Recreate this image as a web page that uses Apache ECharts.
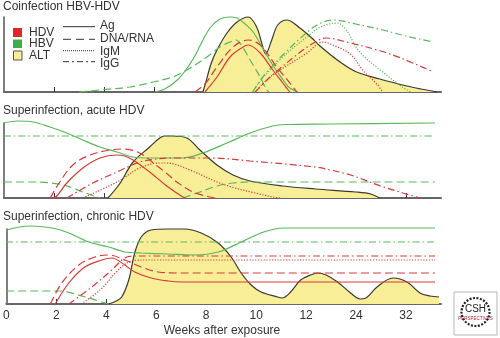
<!DOCTYPE html>
<html><head><meta charset="utf-8">
<script src="https://cdn.jsdelivr.net/npm/echarts@6/dist/echarts.min.js"></script>
<style>html,body{margin:0;padding:0;background:#fff}#c{width:500px;height:338px}</style>
</head><body><div id="c"></div>
<script>
// x positions are in tick-index units of the non-linear week axis
const xTickLabels = ['0','2','4','6','8','10','12','24','32'];
const panelTitles = ['Coinfection HBV-HDV','Superinfection, acute HDV','Superinfection, chronic HDV'];
const xAxisName = 'Weeks after exposure';

// Panel 1: coinfection
const coALT = [[3.96,0],[4.02,10],[4.12,28],[4.24,42],[4.44,59],[4.64,70],[4.86,75],[5.03,65],[5.13,49],[5.21,38],[5.33,52],[5.45,67],[5.63,72],[5.89,64],[6.15,53],[6.29,46],[6.69,30],[7.02,20],[7.48,13],[8.02,6],[8.3,3],[8.62,0]];
const coHBVAg = [[3.0,0],[3.2,3],[3.45,12],[3.62,22],[3.8,36],[3.9,46],[4.1,64],[4.3,73],[4.5,75],[4.64,74],[4.8,68],[4.96,60],[5.16,43],[5.3,31],[5.43,21],[5.6,9],[5.69,4],[5.85,0]];
const coHBVDNA = [[1.5,0],[1.9,2],[2.5,5],[2.97,10],[3.36,15],[3.64,22],[4.04,35],[4.3,45],[4.5,50],[4.62,52],[4.75,45],[4.9,32],[5.1,15],[5.23,2],[5.28,0]];
const coHBVIgM = [[4.95,0],[5.15,14],[5.55,35],[6.03,55],[6.3,65],[6.63,69],[6.8,63],[7.08,40],[7.54,20],[7.82,9],[8.02,2],[8.1,0]];
const coHBVIgG = [[4.95,0],[5.15,15],[5.55,37],[6.09,62],[6.35,70],[6.55,72],[7.0,68],[7.54,62],[8.0,56],[8.55,50]];
const coHDVAg = [[4.0,0],[4.24,15],[4.5,35],[4.76,45],[4.86,47],[5.1,39],[5.35,22],[5.55,9],[5.69,0]];
const coHDVRNA = [[3.8,0],[4.0,8],[4.24,25],[4.56,45],[4.86,52],[5.1,47],[5.43,25],[5.69,9],[5.83,0]];
const coHDVIgM = [[5.0,0],[5.3,15],[6.03,39],[6.35,50],[6.45,49],[6.89,38],[7.14,22],[7.42,8],[7.54,0]];
const coHDVIgG = [[5.0,0],[5.3,15],[5.9,40],[6.2,50],[6.4,54],[6.9,49],[7.5,41],[7.9,34],[8.55,20]];

// Panel 2: superinfection, acute HDV
const acALT = [[2.07,0],[2.3,14],[2.57,36],[2.9,51],[3.1,60],[3.2,62],[3.35,62],[3.64,60],[3.9,48],[4.24,33],[4.56,23],[4.9,17],[5.55,12],[6.2,9],[7.0,6],[7.3,4],[7.48,0]];
const acHBVAg = [[0,75],[0.26,77],[0.58,76],[0.915,71],[1.25,65],[1.57,58],[1.91,51],[2.25,46],[2.57,41],[2.9,40],[3.24,40],[3.56,40],[3.96,45],[4.44,55],[4.9,65],[5.35,72],[5.6,73.5],[6.5,74],[8.58,75]];
const acHBVIgG = [[0,62],[8.58,62]];
const acHBVDNA1 = [[0,16],[0.6,16],[1.1,14],[1.31,11],[1.57,6],[1.8,2],[1.91,0]];
const acHBVDNA2 = [[3.56,0],[3.9,6],[4.24,12],[4.56,15],[4.9,16],[8.58,16]];
const acHDVAg = [[1.0,0],[1.07,3],[1.25,15],[1.57,30],[1.91,40],[2.25,43],[2.4,42],[2.57,38],[2.9,26],[3.24,12],[3.56,1],[3.62,0]];
const acHDVRNA = [[0.92,0],[1.11,16],[1.37,33],[1.71,43],[2.11,48],[2.37,49],[2.7,45],[3.05,32],[3.3,22],[3.44,16],[3.76,6],[4.1,1],[4.2,0]];
const acHDVIgG = [[1.25,0],[1.77,15],[2.25,26],[2.7,36],[3.04,39],[3.3,40],[4.1,40],[4.9,37],[6.2,31],[6.5,28],[6.9,23],[7.5,12],[7.94,5],[8.28,0]];
const acHDVIgM = [[1.57,0],[2.25,16],[2.7,30],[3.1,35],[3.24,35],[3.7,28],[4.24,16],[4.6,10],[5.0,5],[5.35,1],[5.5,0]];

// Panel 3: superinfection, chronic HDV
const chALT = [[2.05,0],[2.2,3],[2.31,7],[2.45,24],[2.57,51],[2.7,67],[2.9,74],[3.24,75],[3.56,75],[3.9,71],[4.24,61],[4.5,47],[4.7,31],[4.9,19],[5.1,12],[5.43,7],[5.52,6],[5.69,12],[5.89,24],[6.09,29],[6.23,31],[6.4,29],[6.63,22],[6.89,11],[7.08,5],[7.2,6],[7.42,17],[7.74,26],[8.02,22],[8.28,11],[8.48,8],[8.66,7]];
const chHBVAg = [[0,74],[0.46,78],[0.915,76],[1.25,71],[1.65,62],[2.05,57],[2.37,52],[2.7,51],[3.24,50],[3.76,49],[4.24,52],[4.7,62],[5.15,72],[5.55,76],[8.58,76]];
const chHBVIgG = [[0,62],[8.58,62]];
const chHBVDNA = [[0,13],[1.11,13],[1.37,10],[1.65,6],[1.91,2],[2.05,0]];
const chHDVAg = [[0.98,0],[1.25,21],[1.57,37],[1.91,44],[2.11,46],[2.37,39],[2.57,32],[2.9,26],[3.24,23],[3.5,22],[8.58,22]];
const chHDVRNA = [[0.88,0],[1.11,21],[1.45,39],[1.77,47],[2.05,49],[2.37,44],[2.7,37],[3.04,32],[3.44,31],[8.58,31]];
const chHDVIgG = [[1.25,0],[1.71,17],[2.11,34],[2.37,46],[2.6,48],[8.58,48]];
const chHDVIgM = [[1.5,0],[1.9,15],[2.2,32],[2.45,42],[2.7,44],[8.58,44]];

const RED = '#d93a38', GREEN = '#5bb85a', YEL = '#f8ee98', OUT = '#3a3a32';
const SOLID = 'solid', DASH = [8,4], DOT = [1.2,1.6], DASHDOT = [7,3,1.5,3];

function ln(g, data, color, type){
  return {type:'line', xAxisIndex:g, yAxisIndex:g, data:data, smooth:0.35, symbol:'none', clip:false, silent:true, z:3,
    lineStyle:{color:color, width:1.2, type:type}};
}
function alt(g, data){
  return {type:'line', xAxisIndex:g, yAxisIndex:g, data:data, smooth:0.35, symbol:'none', clip:false, silent:true, z:2,
    lineStyle:{color:OUT, width:1.2}, areaStyle:{color:YEL, opacity:1}};
}

const tops = [17, 123, 229];
const grids = tops.map(t => ({left:4, top:t, width:437, height:75}));
const xAxes = tops.map((t,i) => ({gridIndex:i, type:'value', min:0, max:8.7,
  axisLine:{show:true, lineStyle:{color:'#666', width:2}},
  axisTick:{show:true, inside:true, length:5, customValues:[1,2,3,4,5,6,7,8], lineStyle:{color:'#333', width:1}},
  axisLabel:{show:i===2, customValues:[0,1,2,3,4,5,6,7,8], formatter:v => xTickLabels[Math.round(v)], color:'#333', fontSize:12, margin:6, fontFamily:'Liberation Sans'},
  splitLine:{show:false}}));
const yAxes = tops.map((t,i) => ({gridIndex:i, type:'value', min:0, max:75,
  axisLine:{show:true, lineStyle:{color:'#555', width:1.5}}, axisTick:{show:false}, axisLabel:{show:false}, splitLine:{show:false}}));

const series = [
  alt(0, coALT),
  ln(0, coHBVDNA, GREEN, DASH), ln(0, coHBVAg, GREEN, SOLID), ln(0, coHBVIgM, GREEN, DOT), ln(0, coHBVIgG, GREEN, DASHDOT),
  ln(0, coHDVRNA, RED, DASH), ln(0, coHDVAg, RED, SOLID), ln(0, coHDVIgM, RED, DOT), ln(0, coHDVIgG, RED, DASHDOT),
  alt(1, acALT),
  ln(1, acHBVAg, GREEN, SOLID), ln(1, acHBVIgG, GREEN, DASHDOT), ln(1, acHBVDNA1, GREEN, DASH), ln(1, acHBVDNA2, GREEN, DASH),
  ln(1, acHDVRNA, RED, DASH), ln(1, acHDVAg, RED, SOLID), ln(1, acHDVIgG, RED, DASHDOT), ln(1, acHDVIgM, RED, DOT),
  alt(2, chALT),
  ln(2, chHBVAg, GREEN, SOLID), ln(2, chHBVIgG, GREEN, DASHDOT), ln(2, chHBVDNA, GREEN, DASH),
  ln(2, chHDVRNA, RED, DASH), ln(2, chHDVAg, RED, SOLID), ln(2, chHDVIgG, RED, DASHDOT), ln(2, chHDVIgM, RED, DOT)
];

const TF = 'Liberation Sans, Arial, sans-serif';
const txt = (x,y,s,size,color,align) => ({type:'text', left:undefined, x:x, y:y, style:{text:s, fill:color||'#333', font:(size||12)+'px '+TF, textAlign:align||'left', textVerticalAlign:'middle'}, silent:true, z:10});
const legLine = (y,dash) => ({type:'line', shape:{x1:63,y1:y,x2:95,y2:y}, style:{stroke:'#333', lineWidth:1, lineDash:dash}, silent:true, z:10});

const graphic = [
  txt(3,7,panelTitles[0],12), txt(3,111,panelTitles[1],12), txt(3,217,panelTitles[2],12),
  txt(222,331,xAxisName,12,'#333','center'),
  {type:'rect', shape:{x:13,y:28,width:9,height:9}, style:{fill:'#e2262a'}, z:10},
  {type:'rect', shape:{x:13,y:39.5,width:9,height:8.5}, style:{fill:'#3dae48'}, z:10},
  {type:'rect', shape:{x:13.5,y:51,width:8.5,height:9}, style:{fill:YEL, stroke:'#555', lineWidth:1}, z:10},
  txt(29,32.5,'HDV',12), txt(29,44,'HBV',12), txt(29,56,'ALT',12),
  legLine(26.7,null), legLine(39.3,[8,5]), legLine(50.7,[1,1]), legLine(61.7,[6,3,2,3]),
  txt(100,26,'Ag',12), txt(100,39,'DNA/RNA',12), txt(100,52,'IgM',12), txt(100,64,'IgG',12),
  {type:'rect', shape:{x:454,y:292,width:43,height:43}, style:{fill:'#fff', stroke:'#b5b5b5', lineWidth:1}, z:10},
  {type:'circle', shape:{cx:475.5,cy:312,r:14}, style:{fill:'none', stroke:'#222', lineWidth:2.2, lineDash:[2,1.5]}, z:11},
  txt(475.5,309,'CSH',10,'#222','center'),
  txt(475.5,318.5,'PERSPECTIVES',4.5,'#b0282e','center')
];

const chart = echarts.init(document.getElementById('c'), null, {renderer:'canvas'});
chart.setOption({animation:false, backgroundColor:'#fff', grid:grids, xAxis:xAxes, yAxis:yAxes, series:series, graphic:graphic});
</script></body></html>
